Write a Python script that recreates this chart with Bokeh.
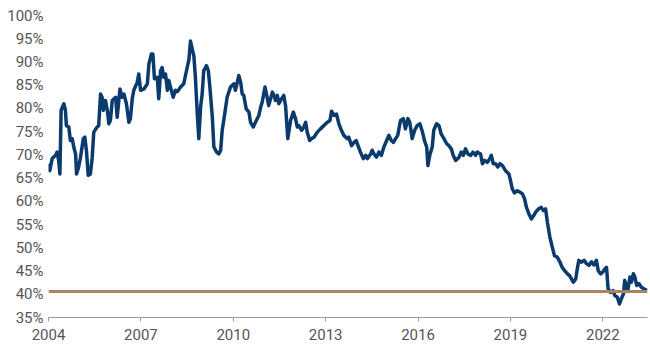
from bokeh.plotting import figure
from bokeh.models import FixedTicker, PrintfTickFormatter, Span, Range1d
from bokeh.embed import file_html
from bokeh.resources import INLINE

years = [
    2004.00, 2004.04, 2004.12, 2004.23, 2004.28, 2004.33, 2004.37, 2004.41, 2004.50, 2004.55,
    2004.58, 2004.66, 2004.71, 2004.77, 2004.82, 2004.88, 2004.91, 2004.98, 2005.04, 2005.13,
    2005.18, 2005.23, 2005.29, 2005.36, 2005.42, 2005.47, 2005.58, 2005.63, 2005.69, 2005.74,
    2005.78, 2005.85, 2005.91, 2005.96, 2006.01, 2006.07, 2006.18, 2006.23, 2006.32, 2006.39,
    2006.45, 2006.53, 2006.61, 2006.66, 2006.72, 2006.77, 2006.88, 2006.93, 2006.99, 2007.10,
    2007.21, 2007.26, 2007.34, 2007.39, 2007.44, 2007.53, 2007.58, 2007.64, 2007.69, 2007.74,
    2007.80, 2007.86, 2007.91, 2007.96, 2008.05, 2008.12, 2008.18, 2008.29, 2008.39, 2008.50,
    2008.56, 2008.61, 2008.67, 2008.72, 2008.77, 2008.83, 2008.88, 2008.94, 2008.99, 2009.04,
    2009.13, 2009.19, 2009.24, 2009.32, 2009.37, 2009.46, 2009.53, 2009.59, 2009.64, 2009.69,
    2009.80, 2009.91, 2010.02, 2010.07, 2010.18, 2010.24, 2010.29, 2010.34, 2010.42, 2010.51,
    2010.56, 2010.65, 2010.72, 2010.83, 2010.89, 2010.94, 2011.03, 2011.10, 2011.15, 2011.27,
    2011.32, 2011.37, 2011.43, 2011.48, 2011.57, 2011.64, 2011.70, 2011.77, 2011.86, 2011.95,
    2012.02, 2012.08, 2012.13, 2012.22, 2012.29, 2012.35, 2012.40, 2012.48, 2012.54, 2012.62,
    2012.73, 2012.83, 2012.94, 2013.05, 2013.14, 2013.19, 2013.27, 2013.35, 2013.43, 2013.51,
    2013.59, 2013.70, 2013.75, 2013.84, 2013.92, 2013.99, 2014.05, 2014.13, 2014.22, 2014.30,
    2014.35, 2014.46, 2014.51, 2014.57, 2014.65, 2014.73, 2014.81, 2014.89, 2014.98, 2015.05,
    2015.13, 2015.20, 2015.27, 2015.34, 2015.43, 2015.52, 2015.59, 2015.67, 2015.73, 2015.81,
    2015.89, 2015.97, 2016.06, 2016.14, 2016.21, 2016.28, 2016.32, 2016.38, 2016.46, 2016.51,
    2016.60, 2016.68, 2016.75, 2016.84, 2016.93, 2017.00, 2017.08, 2017.14, 2017.22, 2017.33,
    2017.40, 2017.47, 2017.54, 2017.62, 2017.71, 2017.78, 2017.87, 2017.92, 2018.03, 2018.09,
    2018.16, 2018.25, 2018.33, 2018.38, 2018.44, 2018.52, 2018.59, 2018.66, 2018.74, 2018.84,
    2018.95, 2019.00, 2019.06, 2019.13, 2019.22, 2019.30, 2019.39, 2019.46, 2019.52, 2019.60,
    2019.68, 2019.76, 2019.82, 2019.92, 2020.00, 2020.07, 2020.14, 2020.20, 2020.28, 2020.36,
    2020.43, 2020.52, 2020.61, 2020.68, 2020.76, 2020.85, 2020.92, 2020.98, 2021.04, 2021.12,
    2021.17, 2021.22, 2021.31, 2021.39, 2021.47, 2021.55, 2021.63, 2021.71, 2021.79, 2021.85,
    2021.93, 2022.00, 2022.07, 2022.12, 2022.17, 2022.25, 2022.33, 2022.39, 2022.47, 2022.54,
    2022.60, 2022.67, 2022.71, 2022.77, 2022.81, 2022.88, 2022.93, 2022.99, 2023.04, 2023.10,
    2023.17, 2023.25, 2023.33, 2023.44,
]

share = [
    68.1, 66.6, 69.2, 69.9, 70.6, 68.8, 65.9, 79.6, 81.0, 79.6,
    76.3, 76.0, 73.1, 73.5, 71.7, 70.2, 65.9, 67.4, 69.5, 73.5,
    73.8, 71.0, 65.6, 65.9, 69.5, 74.9, 76.0, 76.3, 83.1, 82.4,
    79.6, 81.7, 79.6, 76.7, 77.4, 81.7, 82.4, 78.1, 84.2, 82.4,
    83.1, 81.0, 77.0, 77.8, 82.1, 83.9, 85.6, 87.4, 83.9, 84.2,
    85.3, 89.6, 91.7, 91.7, 86.4, 86.7, 82.1, 88.1, 88.8, 86.7,
    87.4, 83.9, 86.0, 84.6, 82.4, 83.9, 83.6, 84.6, 85.3, 88.7,
    90.5, 94.5, 92.7, 91.3, 86.7, 78.9, 73.5, 80.4, 83.1, 88.1,
    89.2, 88.1, 84.6, 78.1, 71.7, 70.6, 70.2, 71.0, 75.3, 77.4,
    82.4, 84.6, 85.3, 83.9, 87.1, 85.6, 83.1, 82.8, 79.9, 79.2,
    77.0, 76.0, 77.0, 78.5, 80.3, 81.4, 84.6, 82.4, 80.6, 83.5,
    82.8, 81.7, 82.8, 81.0, 82.1, 82.8, 80.4, 73.5, 77.4, 79.2,
    77.8, 76.0, 76.3, 75.3, 76.0, 77.0, 74.9, 73.1, 73.5, 73.8,
    74.9, 75.6, 76.3, 77.0, 77.4, 79.4, 78.5, 78.8, 76.7, 75.3,
    74.2, 73.5, 73.8, 72.0, 72.7, 73.1, 72.0, 70.6, 69.2, 69.9,
    69.2, 70.2, 71.0, 70.2, 69.5, 70.6, 69.9, 71.7, 73.1, 74.2,
    73.1, 72.7, 73.5, 74.2, 77.4, 77.8, 75.6, 77.8, 77.0, 73.5,
    75.3, 76.3, 76.7, 75.0, 73.0, 71.7, 67.7, 69.9, 71.7, 75.3,
    76.7, 76.3, 74.5, 73.5, 72.4, 72.0, 71.3, 69.9, 68.8, 69.5,
    70.6, 69.9, 71.3, 70.2, 69.9, 70.6, 69.9, 70.6, 70.2, 68.1,
    68.8, 68.4, 69.2, 69.9, 68.1, 68.1, 67.4, 68.1, 67.7, 66.6,
    65.9, 64.5, 62.7, 61.8, 62.3, 62.0, 61.6, 60.5, 58.7, 57.3,
    56.2, 57.0, 57.7, 58.4, 58.7, 58.0, 58.4, 55.5, 52.3, 50.1,
    48.3, 48.0, 46.9, 45.8, 45.1, 44.4, 44.0, 43.3, 42.6, 43.3,
    45.5, 47.3, 46.9, 47.3, 46.6, 46.2, 47.0, 46.3, 47.3, 45.1,
    44.4, 44.8, 45.5, 45.8, 41.2, 40.4, 40.8, 39.7, 39.4, 37.9,
    39.0, 40.1, 43.0, 41.5, 40.8, 43.7, 42.6, 44.4, 43.7, 41.9,
    42.3, 41.5, 41.2, 40.8,
]

reference_level = 40.6
x_ticks = [2004, 2007, 2010, 2013, 2016, 2019, 2022]
y_ticks = [35, 40, 45, 50, 55, 60, 65, 70, 75, 80, 85, 90, 95, 100]

FONT = "Roboto"
LABEL_COLOR = "#555555"

p = figure(
    width=650, height=350,
    output_backend="svg", toolbar_location=None,
    x_range=Range1d(2004, 2023.45), y_range=Range1d(35, 100),
    min_border_left=48, min_border_right=3, min_border_top=15, min_border_bottom=33,
)
p.outline_line_color = None
p.grid.grid_line_color = None
p.background_fill_color = "white"
p.border_fill_color = "white"

ref = Span(location=reference_level, dimension="width", line_color="#a8845f", line_width=3)
p.add_layout(ref)

p.line(years, share, line_color="#0b3a6c", line_width=3.5, line_join="round")

xa = p.xaxis[0]
xa.ticker = FixedTicker(ticks=x_ticks)
xa.formatter = PrintfTickFormatter(format="%d")
xa.axis_line_color = "#9a9a9a"
xa.axis_line_width = 1
xa.major_tick_line_color = "#9a9a9a"
xa.major_tick_out = 4
xa.major_tick_in = 0
xa.minor_tick_line_color = None
xa.major_label_text_font = FONT
xa.major_label_text_font_size = "15px"
xa.major_label_text_color = LABEL_COLOR
xa.major_label_standoff = 7

ya = p.yaxis[0]
ya.ticker = FixedTicker(ticks=y_ticks)
ya.formatter = PrintfTickFormatter(format="%d%%")
ya.axis_line_color = None
ya.major_tick_line_color = None
ya.minor_tick_line_color = None
ya.major_tick_out = 0
ya.major_tick_in = 0
ya.major_label_text_font = FONT
ya.major_label_text_font_size = "15px"
ya.major_label_text_color = LABEL_COLOR
ya.major_label_standoff = 5

open("out.html", "w").write(file_html(p, INLINE))
